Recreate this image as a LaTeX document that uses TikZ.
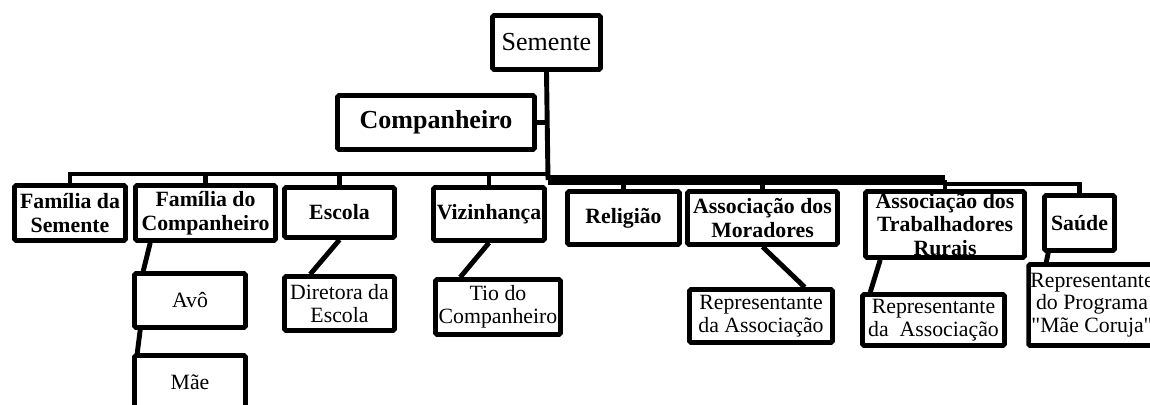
\documentclass[tikz,border=0pt]{standalone}
\usepackage{fontspec}
\setmainfont{Liberation Serif}
\newfontfamily\plainrm{Liberation Serif}
\usepackage{tikz}
\usetikzlibrary{calc}
\tikzset{
 box/.style={draw,line width=2.6pt,rounded corners=0.8pt,inner sep=1pt,align=center,
   font=\fontsize{12.4}{12.9}\selectfont},
 bbox/.style={box,font=\fontsize{12.4}{13.4}\selectfont\bfseries},
 topbox/.style={box,font=\fontsize{14.8}{16}\selectfont},
 link/.style={line width=2.8pt},
 busline/.style={line width=5.8pt}
}

\begin{document}
\begin{tikzpicture}[x=0.02cm,y=-0.02cm]
\useasboundingbox (0,0) rectangle (1150,405);

\path (546.5,42.5) node[name=sem,topbox,minimum width=2.16cm,minimum height=1.08cm] {Semente};
\path (436,122.5) node[name=comp,topbox,minimum width=3.94cm,minimum height=1.08cm] {\bfseries Companheiro};

\coordinate (jl) at (548,174);
\coordinate (j0) at (548,180);
\coordinate (jr) at (945,184);

% first row
\path (70,213) node[name=fs,bbox,minimum width=2.22cm,minimum height=1.1cm] {Família da\\Semente};
\path (205.5,213) node[name=fc,bbox,minimum width=2.8cm,minimum height=1.1cm] {Família do\\Companheiro};
\path (339.5,212.5) node[name=es,bbox,minimum width=2.2cm,minimum height=1cm] {Escola};
\path (489,214) node[name=vz,bbox,minimum width=2.22cm,minimum height=1.06cm] {Vizinhança};
\path (623.5,218) node[name=rel,bbox,minimum width=2.24cm,minimum height=1.06cm] {Religião};
\path (762.5,218) node[name=mor,bbox,minimum width=3cm,minimum height=1.06cm] {Associação dos\\Moradores};
\path (945,224.5) node[name=at,bbox,minimum width=3.18cm,minimum height=1.24cm] {Associação dos\\Trabalhadores\\Rurais};
\path (1079.5,223) node[name=sa,bbox,minimum width=1.4cm,minimum height=1.1cm] {Saúde};

% second row
\path (190,300.5) node[name=avo,box,minimum width=2.22cm,minimum height=1.08cm] {Avô};
\path (190,382.5) node[name=mae,box,minimum width=2.22cm,minimum height=1.08cm] {Mãe};
\path (339.5,303.5) node[name=dir,box,minimum width=2.2cm,minimum height=1.08cm] {Diretora da\\Escola};
\path (498,307) node[name=tio,box,minimum width=2.5cm,minimum height=1.1cm] {Tio do\\Companheiro};
\path (761,316) node[name=rm,box,minimum width=2.86cm,minimum height=1.06cm] {Representante\\da Associação};
\path (933.5,320) node[name=rt,box,minimum width=2.84cm,minimum height=1.02cm] {Representante\\da\ \ Associação};
\path (1092,305) node[name=mc,box,minimum width=2.5cm,minimum height=1.62cm] {Representante\\do Programa\\{\plainrm"}Mãe Coruja{\plainrm"}};

\draw[link] (sem.south) -- (j0);
\draw[link] (comp.east) -- (comp.east -| j0);

\draw[link] (fs.north) |- (jl);
\draw[link] (fc.north) |- (jl);
\draw[link] (es.north) |- (jl);
\draw[link] (vz.north) |- (jl);

\draw[busline] (j0) -- (at.north |- j0);
\draw[link] (rel.north) -- (rel.north |- j0);
\draw[link] (mor.north) -- (mor.north |- j0);
\draw[link] (at.north) -- (at.north |- j0);
\draw[link] (sa.north) |- (jr);

\draw[link] ($(fc.south west)+(17,0)$) -- ($(avo.north west)+(11,0)$);
\draw[link] ($(avo.south west)+(8,0)$) -- ($(mae.north west)+(5,0)$);
\draw[link] (es.south) -- ($(dir.north west)+(28,0)$);
\draw[link] (vz.south) -- ($(tio.north west)+(27,0)$);
\draw[link] (mor.south) -- ($(rm.north east)+(-30,0)$);
\draw[link] ($(at.south west)+(17,0)$) -- ($(rt.north west)+(10,0)$);
\draw[link] ($(sa.south west)+(6,0)$) -- ($(mc.north west)+(20,0)$);
\end{tikzpicture}
\end{document}
